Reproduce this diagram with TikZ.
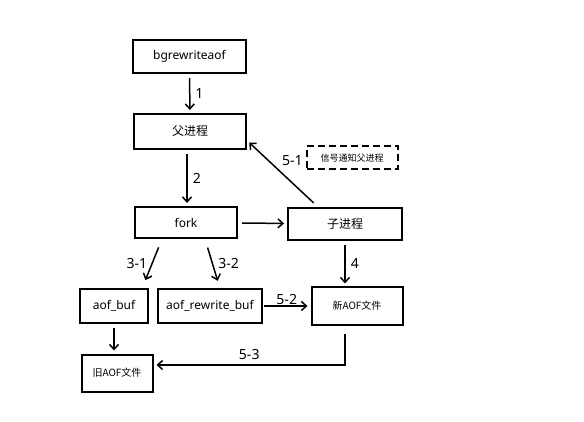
\documentclass[tikz,border=0pt]{standalone}
\usepackage{fontspec}
\setmainfont{Noto Sans}
\newfontfamily\cjk{Noto Sans CJK SC}
\usetikzlibrary{arrows.meta,positioning}

\begin{document}
\begin{tikzpicture}[x=1pt, y=-1pt,
    box/.style={draw, line width=2pt, minimum height=33pt, align=center, inner sep=2pt, font=\fontsize{12}{14}\selectfont},
    cnbox/.style={box, font=\cjk\fontsize{12}{14}\selectfont},
    note/.style={draw, dash pattern=on 7pt off 4pt, line width=2pt, minimum width=91pt, minimum height=23pt, font=\cjk\fontsize{9}{11}\selectfont},
    arrow/.style={-{Straight Barb[length=5pt,width=9pt]}, line width=1.5pt, shorten <=4pt, shorten >=3pt},
    num/.style={font=\fontsize{14}{16}\selectfont, inner sep=1pt}
]
\useasboundingbox (0,0) rectangle (584,422);

\node[box, minimum width=113pt] (bg) at (189.5,56.5) {bgrewriteaof};
\node[cnbox, minimum width=112pt, minimum height=35pt] (parent) at (190,131.5) {父进程};

% fork and child
\node[box, minimum width=102pt, minimum height=31pt] (fork) at (186,222.5) {fork};
\node[cnbox, minimum width=114pt, minimum height=32pt] (child) at (345,224) {子进程};
\node[note] (signal) at (352,158) {信号通知父进程};

% buffers
\node[box, minimum width=68pt] (aofbuf) at (114,306) {aof\_buf};
\node[box, minimum width=104pt] (rwbuf) at (210,306) {aof\_rewrite\_buf};
\node[cnbox, minimum width=91pt, minimum height=37pt, font=\cjk\fontsize{10}{12}\selectfont] (newaof) at (357,306) {新AOF文件};
\node[cnbox, minimum width=71pt, minimum height=37pt, font=\cjk\fontsize{10}{12}\selectfont] (oldaof) at (117,373) {旧AOF文件};

\draw[arrow] (bg) -- node[num, right=4pt] {1} (parent);
\draw[arrow] ([xshift=-3pt]parent.south) -- node[num, right=4pt] {2} ([xshift=1pt]fork.north);
\draw[arrow] (fork) -- (child);
\draw[arrow, shorten <=6pt] ([xshift=-27pt]child.north) -- node[num, pos=0.7, right=12pt] {5-1} ([yshift=-9pt]parent.east);

% fork -> buffers
\draw[arrow, shorten <=9pt, shorten >=9pt] ([xshift=-24pt]fork.south) -- node[num, left=3pt] {3-1} ([xshift=28pt]aofbuf.north);
\draw[arrow, shorten <=9pt, shorten >=8pt] ([xshift=19pt]fork.south) -- node[num, right=4pt] {3-2} ([xshift=10pt]rwbuf.north);
\draw[arrow] (child.south) -- node[num, right=4pt] {4} ([xshift=-12pt]newaof.north);
\draw[arrow, shorten <=1pt] (rwbuf) -- node[num, above=0pt] {5-2} (newaof);
\draw[arrow] (aofbuf) -- ([xshift=-3pt]oldaof.north);
\draw[arrow, shorten <=8pt] ([xshift=-12pt]newaof.south) |- node[num, pos=0.75, above=4pt] {5-3} ([yshift=8pt]oldaof.east);

\end{tikzpicture}
\end{document}
